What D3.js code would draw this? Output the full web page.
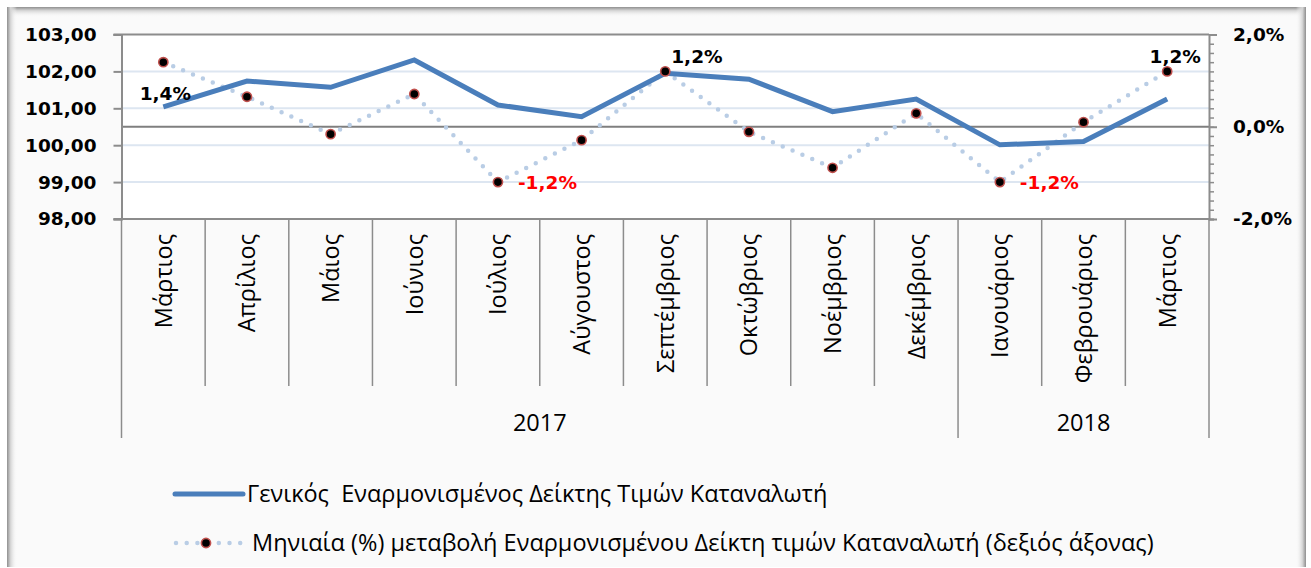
<!DOCTYPE html>
<html>
<head>
<meta charset="utf-8">
<script src="https://cdn.jsdelivr.net/npm/d3@7"></script>
<style>
  body { margin: 0; background: #ffffff; }
  svg { display: block; }
</style>
</head>
<body>
<div id="chart"></div>
<script>
// months on the x axis, grouped by year
var months = ["Μάρτιος", "Απρίλιος", "Μάιος", "Ιούνιος", "Ιούλιος", "Αύγουστος", "Σεπτέμβριος",
              "Οκτώβριος", "Νοέμβριος", "Δεκέμβριος", "Ιανουάριος", "Φεβρουάριος", "Μάρτιος"];
var years = ["2017", "2018"];
var monthsPerYear = [10, 3];

// series
var hicp = [101.04, 101.74, 101.57, 102.31, 101.09, 100.77, 101.95, 101.79, 100.91, 101.25, 100.01, 100.10, 101.25];
var monthlyChange = [1.4, 0.65, -0.16, 0.71, -1.2, -0.29, 1.2, -0.11, -0.89, 0.29, -1.2, 0.1, 1.2];

// which points get a data label and where
var labelIndex = [0, 4, 6, 10, 12];
var labelPlace = ["below", "right", "aboveRight", "right", "above"];

var leftTicks = [98, 99, 100, 101, 102, 103];
var rightTicks = [-2, 0, 2];

var legendNames = ["Γενικός  Εναρμονισμένος Δείκτης Τιμών Καταναλωτή",
                   "Μηνιαία (%) μεταβολή Εναρμονισμένου Δείκτη τιμών Καταναλωτή (δεξιός άξονας)"];

var W = 1311, H = 568;
var plot = {left: 121.5, right: 1209, top: 34.5, bottom: 219};
var locale = d3.formatLocale({decimal: ",", thousands: ".", grouping: [3], currency: ["", "€"], minus: "-"});
var fmt1 = locale.format(".1f");
var fmt2 = locale.format(".2f");
var textFont = "23.5px";

var svg = d3.select("#chart").append("svg").attr("width", W).attr("height", H);
var defs = svg.append("defs");

// chart frame with soft shadow edges
function grad(id, x1, y1, x2, y2) {
  var g = defs.append("linearGradient").attr("id", id)
    .attr("x1", x1).attr("y1", y1).attr("x2", x2).attr("y2", y2);
  g.append("stop").attr("offset", "0%").attr("stop-color", "#8f8f8f");
  g.append("stop").attr("offset", "35%").attr("stop-color", "#d4d4d4");
  g.append("stop").attr("offset", "100%").attr("stop-color", "#fafafa").attr("stop-opacity", 0);
}
grad("gl", 0, 0, 1, 0);
grad("gt", 0, 0, 0, 1);
grad("gr", 1, 0, 0, 0);

svg.append("rect").attr("x", 7).attr("y", 7).attr("width", 1299).attr("height", 560).attr("fill", "#fafafa");
svg.append("rect").attr("x", 7).attr("y", 7).attr("width", 1299).attr("height", 10).attr("fill", "url(#gt)");
svg.append("rect").attr("x", 7).attr("y", 7).attr("width", 10).attr("height", 560).attr("fill", "url(#gl)");
svg.append("rect").attr("x", 1296).attr("y", 7).attr("width", 10).attr("height", 560).attr("fill", "url(#gr)");

// scales
var x = d3.scaleBand().domain(d3.range(months.length)).range([plot.left, plot.right]).padding(0);
var yL = d3.scaleLinear().domain([98, 103]).range([plot.bottom, plot.top]);
var yR = d3.scaleLinear().domain([-2, 2]).range([plot.bottom, plot.top]);
function cx(i) { return x(i) + x.bandwidth() / 2; }

// plot area
svg.append("rect").attr("x", plot.left).attr("y", plot.top)
  .attr("width", plot.right - plot.left).attr("height", plot.bottom - plot.top).attr("fill", "#ffffff");

svg.append("g").selectAll("line").data(leftTicks.slice(1, -1)).enter().append("line")
  .attr("x1", plot.left).attr("x2", plot.right)
  .attr("y1", function(d) { return yL(d); }).attr("y2", function(d) { return yL(d); })
  .attr("stroke", "#dde6f1").attr("stroke-width", 2);

// zero line of the right axis
svg.append("line").attr("x1", plot.left).attr("x2", plot.right)
  .attr("y1", yR(0)).attr("y2", yR(0)).attr("stroke", "#7f7f7f").attr("stroke-width", 2);

// top border
svg.append("line").attr("x1", plot.left - 8).attr("x2", plot.right)
  .attr("y1", plot.top).attr("y2", plot.top).attr("stroke", "#8c8c8c").attr("stroke-width", 2);

// left axis
var axisL = svg.append("g").attr("transform", "translate(" + plot.left + ",0)")
  .call(d3.axisLeft(yL).tickValues(leftTicks).tickSize(8).tickPadding(17).tickFormat(fmt2));
axisL.select(".domain").attr("stroke", "#8c8c8c").attr("stroke-width", 2);
axisL.selectAll(".tick line").attr("stroke", "#8c8c8c").attr("stroke-width", 2);
axisL.selectAll("text").attr("fill", "#000").style("font-family", "DejaVu Sans")
  .style("font-weight", "bold").style("font-size", "18.5px");

// right axis (minor and major ticks)
var axisRminor = svg.append("g").attr("transform", "translate(" + plot.right + ",0)")
  .call(d3.axisRight(yR).tickValues(d3.range(-20, 21, 2).map(function(d) { return d / 10; }))
        .tickSize(5).tickFormat(""));
axisRminor.select(".domain").attr("stroke", "#8c8c8c").attr("stroke-width", 2);
axisRminor.selectAll(".tick line").attr("stroke", "#8c8c8c").attr("stroke-width", 1.5);

var axisR = svg.append("g").attr("transform", "translate(" + plot.right + ",0)")
  .call(d3.axisRight(yR).tickValues(rightTicks).tickSize(8).tickPadding(16)
        .tickFormat(function(d) { return fmt1(d) + "%"; }));
axisR.select(".domain").remove();
axisR.selectAll(".tick line").attr("stroke", "#8c8c8c").attr("stroke-width", 2);
axisR.selectAll("text").attr("fill", "#000").style("font-family", "DejaVu Sans")
  .style("font-weight", "bold").style("font-size", "18.5px");

// bottom axis with category separators and year groups
svg.append("line").attr("x1", plot.left - 8).attr("x2", plot.right)
  .attr("y1", plot.bottom).attr("y2", plot.bottom).attr("stroke", "#8c8c8c").attr("stroke-width", 2);

var bounds = d3.range(months.length + 1);
var groupEdges = [0];
monthsPerYear.reduce(function(a, n) { groupEdges.push(a + n); return a + n; }, 0);
function edgeX(d) { return d < months.length ? x(d) : plot.right; }

svg.append("g").selectAll("line").data(bounds).enter().append("line")
  .attr("x1", edgeX).attr("x2", edgeX)
  .attr("y1", plot.bottom)
  .attr("y2", function(d) { return groupEdges.indexOf(d) >= 0 ? 438 : 386; })
  .attr("stroke", "#8c8c8c").attr("stroke-width", 1.5);

svg.append("g").selectAll("text").data(months).enter().append("text")
  .attr("transform", function(d, i) { return "translate(" + (cx(i) + 8.5) + ",234) rotate(-90)"; })
  .attr("text-anchor", "end")
  .style("font-family", "Open Sans").style("font-size", textFont).attr("fill", "#000")
  .text(function(d) { return d; });

svg.append("g").selectAll("text").data(years).enter().append("text")
  .attr("x", function(d, i) { return (edgeX(groupEdges[i]) + edgeX(groupEdges[i + 1])) / 2; })
  .attr("y", 431).attr("text-anchor", "middle")
  .style("font-family", "Open Sans").style("font-size", textFont).attr("fill", "#000")
  .text(function(d) { return d; });

// series
var line = d3.line().x(function(d, i) { return cx(i); }).y(function(d) { return yL(d); });
var lineR = d3.line().x(function(d, i) { return cx(i); }).y(function(d) { return yR(d); });

svg.append("path").datum(monthlyChange).attr("d", lineR).attr("fill", "none")
  .attr("stroke", "#b9cde5").attr("stroke-width", 4.5).attr("stroke-linecap", "round")
  .attr("stroke-dasharray", "0 10.7");

svg.append("path").datum(hicp).attr("d", line).attr("fill", "none")
  .attr("stroke", "#4a7ebb").attr("stroke-width", 5).attr("stroke-linejoin", "miter");

svg.append("g").selectAll("circle").data(monthlyChange).enter().append("circle")
  .attr("cx", function(d, i) { return cx(i); }).attr("cy", function(d) { return yR(d); })
  .attr("r", 4.6).attr("fill", "#000").attr("stroke", "#c0504d").attr("stroke-width", 1.6);

// data labels
var offsets = {
  below: {dx: 2, dy: 38, anchor: "middle"},
  right: {dx: 20, dy: 7, anchor: "start"},
  aboveRight: {dx: 6, dy: -8, anchor: "start"},
  above: {dx: 8, dy: -8, anchor: "middle"}
};
svg.append("g").selectAll("text").data(labelIndex).enter().append("text")
  .attr("x", function(d, k) { return cx(d) + offsets[labelPlace[k]].dx; })
  .attr("y", function(d, k) { return yR(monthlyChange[d]) + offsets[labelPlace[k]].dy; })
  .attr("text-anchor", function(d, k) { return offsets[labelPlace[k]].anchor; })
  .attr("fill", function(d) { return monthlyChange[d] < 0 ? "#ff0000" : "#000"; })
  .style("font-family", "DejaVu Sans").style("font-weight", "bold").style("font-size", "18.5px")
  .text(function(d) { return fmt1(monthlyChange[d]) + "%"; });

// legend
var lg = svg.append("g");
lg.append("line").attr("x1", 175).attr("x2", 243).attr("y1", 494).attr("y2", 494)
  .attr("stroke", "#4a7ebb").attr("stroke-width", 5).attr("stroke-linecap", "round");
lg.append("line").attr("x1", 176).attr("x2", 242).attr("y1", 543).attr("y2", 543)
  .attr("stroke", "#b9cde5").attr("stroke-width", 4.5).attr("stroke-linecap", "round")
  .attr("stroke-dasharray", "0 10.7");
lg.append("circle").attr("cx", 206).attr("cy", 543).attr("r", 4.6)
  .attr("fill", "#000").attr("stroke", "#c0504d").attr("stroke-width", 1.6);
lg.selectAll("text").data(legendNames).enter().append("text")
  .attr("x", function(d, i) { return i === 0 ? 247 : 252; })
  .attr("y", function(d, i) { return i === 0 ? 502 : 551; })
  .attr("xml:space", "preserve").style("white-space", "pre")
  .style("font-family", "Open Sans").style("font-size", textFont).attr("fill", "#000")
  .text(function(d) { return d; });
</script>
</body>
</html>
